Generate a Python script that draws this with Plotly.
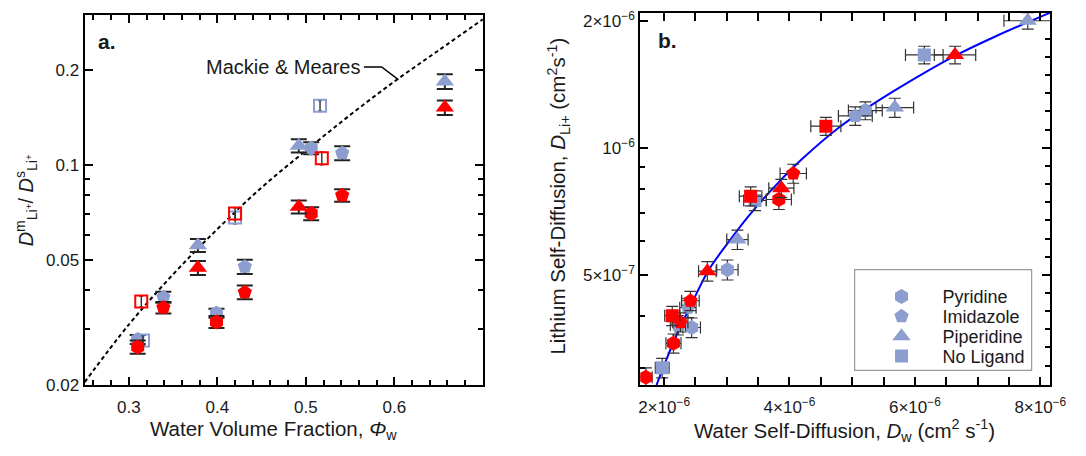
import plotly.graph_objects as go

W, H = 1086, 456
BLUE = "#8C9ECF"
RED = "#FF0000"
FONT = "Liberation Sans, Arial, sans-serif"
TXT = "#1a1a1a"

# ---------------- Panel a data ----------------
phi_pyr = [0.310, 0.399, 0.506]
ratio_pyr_b = [0.0279, 0.0338, 0.113]
ratio_pyr_r = [0.0264, 0.0317, 0.070]
err_pyr_b = [0.0009, 0.0011, 0.005]
err_pyr_r = [0.0013, 0.0014, 0.0033]

phi_imi = [0.339, 0.431, 0.541]
ratio_imi_b = [0.038, 0.0475, 0.109]
ratio_imi_r = [0.0352, 0.0394, 0.080]
err_imi_b = [0.0015, 0.0025, 0.0055]
err_imi_r = [0.0015, 0.002, 0.0036]

phi_pip = [0.378, 0.492, 0.657]
ratio_pip_b = [0.0555, 0.115, 0.184]
ratio_pip_r = [0.0471, 0.0736, 0.152]
err_pip_b = [0.0026, 0.0055, 0.010]
err_pip_r = [0.0024, 0.0035, 0.008]

phi_nol_b = [0.316, 0.420, 0.516]
phi_nol_r = [0.314, 0.420, 0.518]
ratio_nol_b = [0.0277, 0.068, 0.154]
ratio_nol_r = [0.0368, 0.070, 0.105]
err_nol_b = [0.0010, 0.003, 0.006]
err_nol_r = [0.0015, 0.003, 0.005]

# Mackie & Meares line
mm_phi = [0.25, 0.30, 0.35, 0.40, 0.45, 0.50, 0.55, 0.60, 0.65, 0.70]
mm_ratio = [0.0204, 0.0311, 0.0449, 0.0625, 0.0847, 0.111, 0.144, 0.184, 0.231, 0.290]

# ---------------- Panel b data (cm^2/s) ----------------
dw_pyr_b = [5.21e-6, 3.01e-6, 2.44e-6]
dli_pyr_b = [1.225e-6, 5.14e-7, 3.75e-7]
dw_pyr_r = [3.83e-6, 2.15e-6, 1.71e-6]
dli_pyr_r = [7.54e-7, 3.44e-7, 2.86e-7]

dw_imi_b = [5.05e-6, 2.38e-6, 2.22e-6]
dli_imi_b = [1.19e-6, 4.18e-7, 3.80e-7]
dw_imi_r = [4.06e-6, 2.42e-6, 2.26e-6]
dli_imi_r = [8.69e-7, 4.34e-7, 3.86e-7]

dw_pip_b = [7.80e-6, 5.68e-6, 3.17e-6]
dli_pip_b = [2.00e-6, 1.245e-6, 6.06e-7]
dw_pip_r = [6.64e-6, 3.87e-6, 2.69e-6]
dli_pip_r = [1.66e-6, 8.02e-7, 5.10e-7]

dw_nol_b = [6.15e-6, 3.45e-6, 1.97e-6]
dli_nol_b = [1.66e-6, 7.50e-7, 3.01e-7]
dw_nol_r = [4.58e-6, 3.38e-6, 2.13e-6]
dli_nol_r = [1.125e-6, 7.68e-7, 4.00e-7]

xe_pyr_b = [0.27e-6, 0.17e-6, 0.14e-6]; ye_pyr_b = [0.06e-6, 0.028e-6, 0.02e-6]
xe_imi_b = [0.27e-6, 0.13e-6, 0.12e-6]; ye_imi_b = [0.06e-6, 0.022e-6, 0.02e-6]
xe_pip_b = [0.38e-6, 0.30e-6, 0.17e-6]; ye_pip_b = [0.09e-6, 0.065e-6, 0.032e-6]
xe_nol_b = [0.30e-6, 0.18e-6, 0.11e-6]; ye_nol_b = [0.08e-6, 0.04e-6, 0.016e-6]
xe_pyr_r = [0.20e-6, 0.12e-6, 0.10e-6]; ye_pyr_r = [0.04e-6, 0.018e-6, 0.015e-6]
xe_imi_r = [0.21e-6, 0.14e-6, 0.12e-6]; ye_imi_r = [0.045e-6, 0.023e-6, 0.02e-6]
xe_pip_r = [0.33e-6, 0.20e-6, 0.14e-6]; ye_pip_r = [0.08e-6, 0.04e-6, 0.027e-6]
xe_nol_r = [0.24e-6, 0.18e-6, 0.12e-6]; ye_nol_r = [0.055e-6, 0.04e-6, 0.021e-6]

# fitted curve
fit_dw = [1.88e-6, 2.0e-6, 2.2e-6, 2.45e-6, 2.7e-6, 3.0e-6, 3.35e-6, 3.8e-6, 4.2e-6,
          4.8e-6, 5.3e-6, 6.0e-6, 6.6e-6, 7.3e-6, 8.16e-6]
fit_dli = [2.74e-7, 3.05e-7, 3.6e-7, 4.3e-7, 5.1e-7, 5.9e-7, 6.9e-7, 8.2e-7, 9.4e-7,
           1.12e-6, 1.26e-6, 1.46e-6, 1.64e-6, 1.84e-6, 2.09e-6]

legend_names = ["Pyridine", "Imidazole", "Piperidine", "No Ligand"]

fig = go.Figure()

# ---------------- Panel a traces ----------------
def add_a(x, y, e, sym, color, size, open_=False):
    if open_:
        marker = dict(symbol="square-open", size=size, color=color, line=dict(width=2, color=color))
        eb = dict(type="data", array=e, visible=True, color="#222", thickness=1.3, width=2)
    else:
        marker = dict(symbol=sym, size=size, color=color, line=dict(width=0))
        eb = dict(type="data", array=e, visible=True, color="#222", thickness=2, width=8)
    fig.add_trace(go.Scatter(x=x, y=y, mode="markers", marker=marker, error_y=eb,
                             showlegend=False, xaxis="x", yaxis="y", hoverinfo="skip"))

fig.add_trace(go.Scatter(x=mm_phi, y=mm_ratio, mode="lines",
                         line=dict(color="black", width=2, dash="4px,3px", shape="spline"),
                         showlegend=False, xaxis="x", yaxis="y", hoverinfo="skip"))

add_a(phi_pyr, ratio_pyr_b, err_pyr_b, "hexagon", BLUE, 15)
add_a(phi_imi, ratio_imi_b, err_imi_b, "pentagon", BLUE, 15)
add_a(phi_pip, ratio_pip_b, err_pip_b, "triangle-up", BLUE, 16)
add_a(phi_nol_b, ratio_nol_b, err_nol_b, "square-open", BLUE, 12, open_=True)
add_a(phi_pyr, ratio_pyr_r, err_pyr_r, "hexagon", RED, 15)
add_a(phi_imi, ratio_imi_r, err_imi_r, "pentagon", RED, 15)
add_a(phi_pip, ratio_pip_r, err_pip_r, "triangle-up", RED, 16)
add_a(phi_nol_r, ratio_nol_r, err_nol_r, "square-open", RED, 12, open_=True)

# ---------------- Panel b traces ----------------
fig.add_trace(go.Scatter(x=fit_dw, y=fit_dli, mode="lines", line=dict(color="#0000FF", width=2, shape="spline"),
                         showlegend=False, xaxis="x2", yaxis="y2", hoverinfo="skip"))

def add_b(x, y, xe, ye, sym, color, size, name=None, legend=None):
    kw = {}
    if legend:
        kw["legend"] = legend
    fig.add_trace(go.Scatter(
        x=x, y=y, mode="markers", name=name or "",
        marker=dict(symbol=sym, size=size, color=color, line=dict(width=0)),
        error_x=dict(type="data", array=xe, visible=True, color="#333", thickness=1.2, width=6),
        error_y=dict(type="data", array=ye, visible=True, color="#333", thickness=1.2, width=6),
        showlegend=name is not None, xaxis="x2", yaxis="y2", hoverinfo="skip", **kw))

add_b(dw_pyr_b, dli_pyr_b, xe_pyr_b, ye_pyr_b, "hexagon", BLUE, 15, legend_names[0], "legend")
add_b(dw_imi_b, dli_imi_b, xe_imi_b, ye_imi_b, "pentagon", BLUE, 15, legend_names[1], "legend2")
add_b(dw_pip_b, dli_pip_b, xe_pip_b, ye_pip_b, "triangle-up", BLUE, 16, legend_names[2], "legend3")
add_b(dw_nol_b, dli_nol_b, xe_nol_b, ye_nol_b, "square", BLUE, 13, legend_names[3], "legend4")
add_b(dw_pyr_r, dli_pyr_r, xe_pyr_r, ye_pyr_r, "hexagon", RED, 15)
add_b(dw_imi_r, dli_imi_r, xe_imi_r, ye_imi_r, "pentagon", RED, 15)
add_b(dw_pip_r, dli_pip_r, xe_pip_r, ye_pip_r, "triangle-up", RED, 16)
add_b(dw_nol_r, dli_nol_r, xe_nol_r, ye_nol_r, "square", RED, 13)

def px(x):
    return x / W

def py(y):
    return 1 - y / H

axis_common = dict(showline=True, linecolor="black", linewidth=2, ticks="inside",
                   tickcolor="black", tickwidth=1.5, ticklen=8, showgrid=False, zeroline=False,
                   tickfont=dict(family=FONT, size=17, color=TXT))

sup = lambda a, b: f"{a}×10<sup>−{b}</sup>" if a else f"10<sup>−{b}</sup>"

def leg(yc):
    return dict(x=px(873), y=py(yc), xanchor="left", yanchor="middle", bgcolor="rgba(0,0,0,0)",
                borderwidth=0, font=dict(family=FONT, size=18, color=TXT), itemwidth=72)

fig.update_layout(
    width=W, height=H, margin=dict(l=0, r=0, t=0, b=0),
    paper_bgcolor="white", plot_bgcolor="white",
    font=dict(family=FONT, color=TXT),
    xaxis=dict(domain=[px(84), px(489)], anchor="y", range=[0.25, 0.70],
               tickvals=[0.3, 0.4, 0.5, 0.6], ticktext=["0.3", "0.4", "0.5", "0.6"], mirror="allticks",
               minor=dict(tickvals=[0.26, 0.28, 0.32, 0.34, 0.36, 0.38, 0.42, 0.44, 0.46, 0.48,
                                    0.52, 0.54, 0.56, 0.58, 0.62, 0.64, 0.66, 0.68],
                          ticks="inside", ticklen=5, tickcolor="black", tickwidth=1.5),
               ticklabelstandoff=6, **axis_common),
    yaxis=dict(domain=[py(393), py(11)], anchor="x", type="log", range=[-1.699, -0.523],
               tickvals=[0.02, 0.05, 0.1, 0.2], ticktext=["0.02", "0.05", "0.1", "0.2"], mirror="allticks",
               minor=dict(tickvals=[0.03, 0.04, 0.06, 0.07, 0.08, 0.09],
                          ticks="inside", ticklen=5, tickcolor="black", tickwidth=1.5),
               **axis_common),
    xaxis2=dict(domain=[px(649), px(1066)], anchor="y2", range=[1.62e-6, 8.16e-6],
                tickvals=[2e-6, 4e-6, 6e-6, 8e-6], ticktext=[sup(2, 6), sup(4, 6), sup(6, 6), sup(8, 6)],
                mirror="allticks",
                minor=dict(tickvals=[2.5e-6, 3e-6, 3.5e-6, 4.5e-6, 5e-6, 5.5e-6, 6.5e-6, 7e-6, 7.5e-6],
                           ticks="inside", ticklen=5, tickcolor="black", tickwidth=1.5),
                ticklabelstandoff=6, **axis_common),
    yaxis2=dict(domain=[py(393), py(9)], anchor="x2", type="log", range=[-6.562, -5.680],
                tickvals=[5e-7, 1e-6, 2e-6], ticktext=[sup(5, 7), sup(None, 6), sup(2, 6)], mirror=True,
                minor=dict(tickvals=[3e-7, 4e-7, 6e-7, 7e-7, 8e-7, 9e-7],
                           ticks="inside", ticklen=5, tickcolor="black", tickwidth=1.5),
                **axis_common),
    yaxis3=dict(overlaying="y2", anchor="x2", side="right", type="log", range=[-6.562, -5.680],
                showline=False, showgrid=False, zeroline=False, showticklabels=False,
                ticks="inside", ticklen=8, tickcolor="black", tickwidth=1.5,
                tickvals=[5e-7, 1e-6],
                minor=dict(tickvals=[1e-6 * 2 ** (k / 7) for k in range(-12, 7) if k not in (0, -7)],
                           ticks="inside", ticklen=5, tickcolor="black", tickwidth=1.5)),
    legend=leg(302), legend2=leg(322.5), legend3=leg(343), legend4=leg(363.5),
)

# dummy trace to make sure yaxis3 is drawn
fig.add_trace(go.Scatter(x=[None], y=[None], xaxis="x2", yaxis="y3", showlegend=False, hoverinfo="skip"))

# legend box
fig.add_shape(type="rect", xref="paper", yref="paper", x0=px(867), x1=px(1047), y0=py(378), y1=py(274),
              line=dict(color="#999", width=1.2), fillcolor="rgba(0,0,0,0)", layer="below")

# Mackie & Meares leader line
fig.add_shape(type="path", xref="paper", yref="paper",
              path=f"M {px(368)},{py(65)} L {px(386)},{py(65)} L {px(403)},{py(78)}",
              line=dict(color="black", width=1.5))

ann = [
    dict(text="<b>a.</b>", x=px(107), y=py(39), font=dict(size=21)),
    dict(text="<b>b.</b>", x=px(677), y=py(38), font=dict(size=21)),
    dict(text="Mackie & Meares", x=px(286), y=py(65), font=dict(size=20)),
    dict(text="Water Volume Fraction, <i>Φ</i><sub>w</sub>", x=px(276), y=py(440), font=dict(size=20.5)),
    dict(text="Water Self-Diffusion, <i>D</i><sub>w</sub> (cm<sup>2</sup> s<sup>-1</sup>)", x=px(857), y=py(440),
         font=dict(size=20.5)),
    dict(text="<i>D</i><sup>m</sup><sub>Li<sup>+</sup></sub>/ <i>D</i><sup>s</sup><sub>Li<sup>+</sup></sub>",
         x=px(25), y=py(203), textangle=-90, font=dict(size=20)),
    dict(text="Lithium Self-Diffusion, <i>D</i><sub>Li+</sub> (cm<sup>2</sup>s<sup>-1</sup>)",
         x=px(566), y=py(198), textangle=-90, font=dict(size=20.5)),
]
for a in ann:
    f = dict(family=FONT, color=TXT)
    f.update(a.pop("font"))
    fig.add_annotation(xref="paper", yref="paper", showarrow=False, xanchor="center", yanchor="middle",
                       font=f, **a)

fig.write_html("out.html")
